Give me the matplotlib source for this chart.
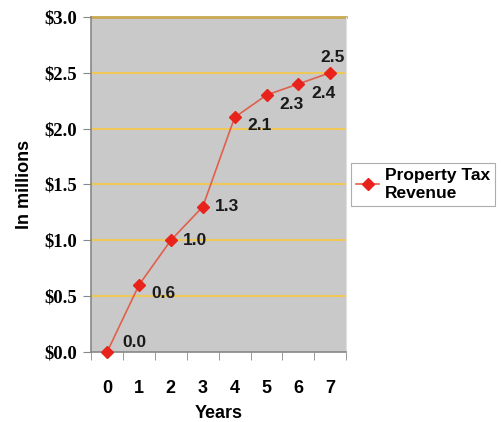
import matplotlib.pyplot as plt
import numpy as np

years = [0, 1, 2, 3, 4, 5, 6, 7]
revenue = [0.0, 0.6, 1.0, 1.3, 2.1, 2.3, 2.4, 2.5]
y_ticks = [0.0, 0.5, 1.0, 1.5, 2.0, 2.5, 3.0]
y_labels = ['$0.0', '$0.5', '$1.0', '$1.5', '$2.0', '$2.5', '$3.0']
series_name = 'Property Tax\nRevenue'

# offsets of the value labels (points)
offsets = [(11, 7), (9, -6), (9, 0), (9, 0), (9, -6), (9, -7), (9, -7), (-7, 11)]

fig = plt.figure(figsize=(5.01, 4.22), dpi=100)
ax = fig.add_axes([0.182, 0.166, 0.509, 0.794])
ax.set_facecolor('#c9c9c9')

ax.plot(years, revenue, color='#e0604c', lw=1.2, marker='D', ms=6.5,
        mfc='#e8231c', mec='#e8231c', label=series_name, zorder=3, clip_on=False)

for x, v, (dx, dy) in zip(years, revenue, offsets):
    ax.annotate(f'{v:.1f}', (x, v), xytext=(dx, dy), textcoords='offset points',
                fontsize=12.5, fontweight='bold', ha='left', va='center',
                family='Liberation Sans', color='#1a1a1a')

ax.set_xlim(-0.5, 7.5)
ax.set_ylim(0, 3.0)
ax.set_yticks(y_ticks)
ax.set_yticklabels(y_labels, family='Liberation Serif', fontweight='bold', fontsize=13.5)
ax.set_xticks(years)
ax.set_xticklabels([str(y) for y in years], family='Liberation Sans', fontweight='bold', fontsize=13)
ax.set_xticks(np.arange(-0.5, 8, 1), minor=True)
ax.tick_params(axis='x', which='major', length=0, pad=20)
ax.tick_params(axis='x', which='minor', length=6, color='#888888', direction='out')
ax.tick_params(axis='y', length=6, color='#888888', direction='out', pad=4)

for y in y_ticks[1:-1]:
    ax.axhline(y, color='#f0c858', lw=1.5, zorder=1)
ax.axhline(3.0, color='#c8a850', lw=2, zorder=1, clip_on=False)

ax.spines['left'].set_color('#888888')
ax.spines['bottom'].set_color('#888888')
ax.spines['top'].set_visible(False)
ax.spines['right'].set_color('#e0e0e0')
ax.spines['left'].set_linewidth(1.2)
ax.spines['bottom'].set_linewidth(1.2)

ax.set_xlabel('Years', family='Liberation Sans', fontweight='bold', fontsize=13, labelpad=6)
ax.set_ylabel('In millions', family='Liberation Sans', fontweight='bold', fontsize=13, labelpad=8)

leg = ax.legend(loc='center left', bbox_to_anchor=(1.02, 0.5), frameon=True, fancybox=False,
                prop={'family': 'Liberation Sans', 'weight': 'bold', 'size': 12.5},
                handlelength=1.3, handletextpad=0.35, borderpad=0.3, labelspacing=0.1,
                borderaxespad=0)
leg.get_frame().set_edgecolor('#999999')
leg.get_frame().set_linewidth(0.8)

plt.savefig('out.png', dpi=100)
